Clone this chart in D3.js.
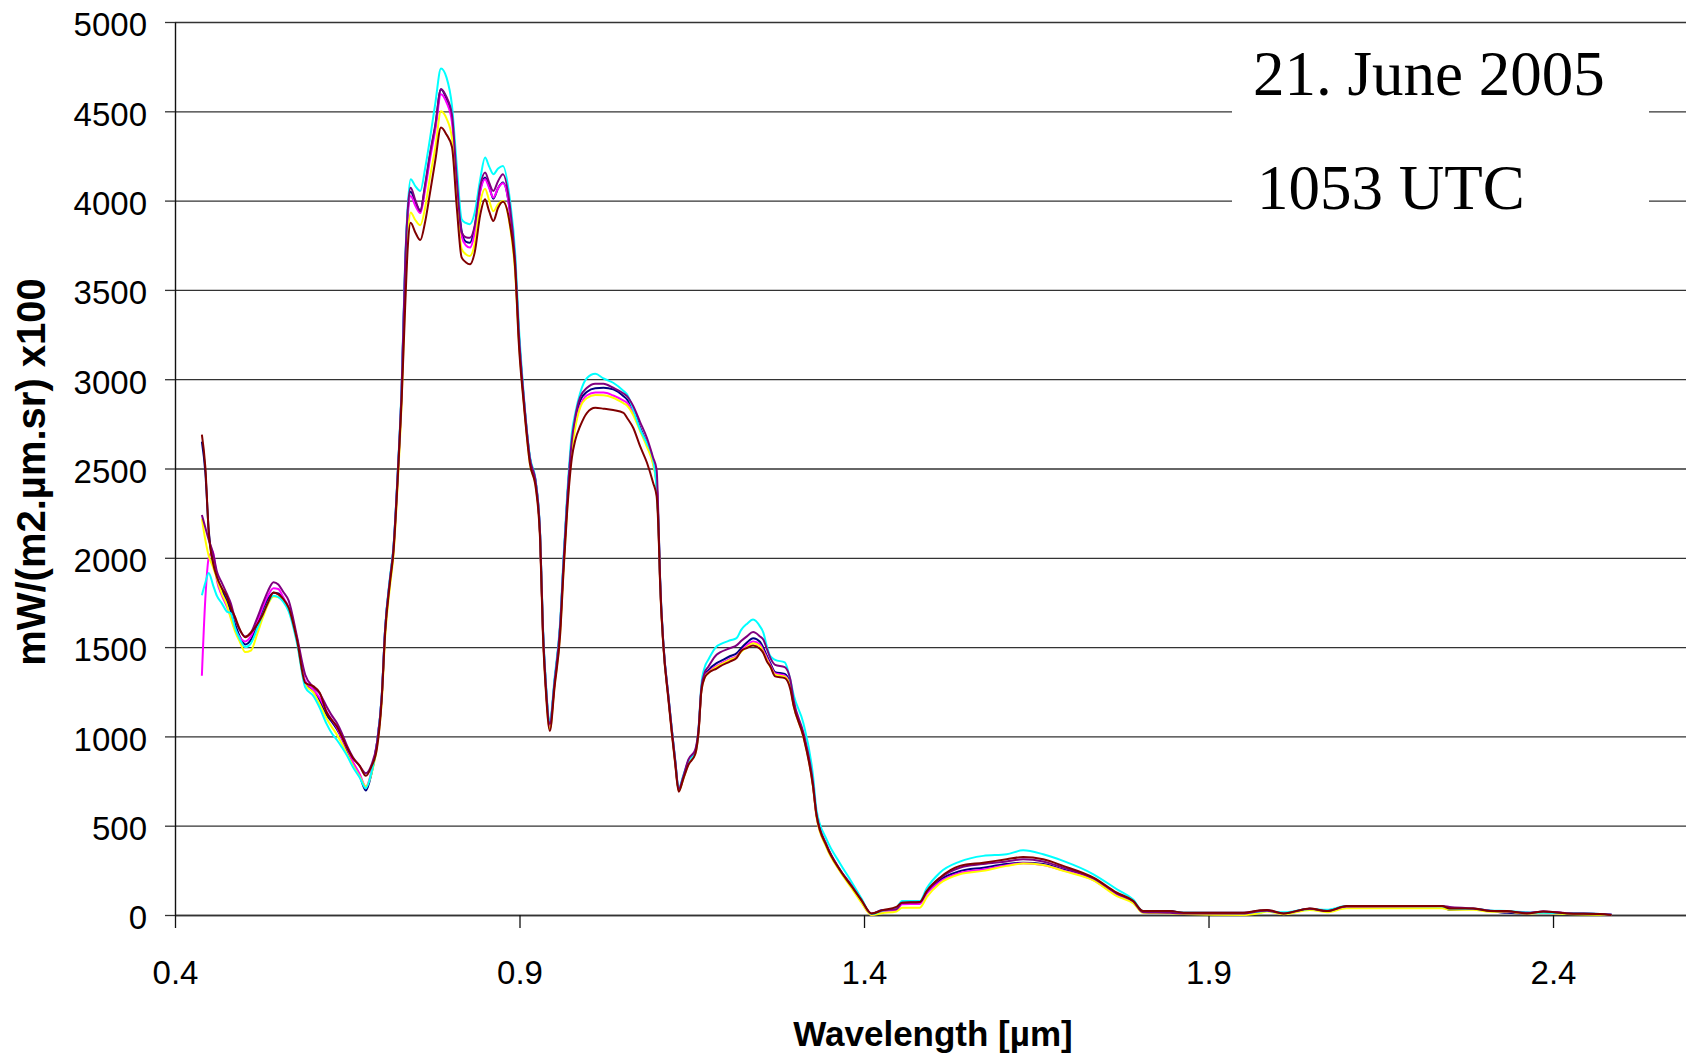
<!DOCTYPE html>
<html>
<head>
<meta charset="utf-8">
<script src="https://cdn.jsdelivr.net/npm/d3@7"></script>
<style>
  html, body { margin: 0; padding: 0; background: #fff; }
  svg { display: block; }
</style>
</head>
<body>
<svg id="chart" width="1686" height="1058"></svg>
<script>
// Wavelength grid [µm] shared by all six radiance spectra
const wavelength = [0.439,0.444,0.449,0.455,0.461,0.468,0.475,0.481,0.487,0.494,
  0.502,0.510,0.519,0.527,0.535,0.543,0.550,0.557,0.565,0.577,
  0.589,0.601,0.610,0.620,0.628,0.635,0.642,0.650,0.658,0.668,
  0.677,0.685,0.693,0.700,0.705,0.712,0.717,0.723,0.729,0.734,
  0.738,0.742,0.749,0.756,0.763,0.770,0.778,0.786,0.794,0.802,
  0.809,0.816,0.822,0.828,0.835,0.843,0.850,0.856,0.862,0.869,
  0.876,0.886,0.894,0.899,0.906,0.915,0.924,0.930,0.934,0.938,
  0.944,0.951,0.959,0.964,0.969,0.976,0.981,0.988,0.998,1.010,
  1.022,1.036,1.051,1.056,1.065,1.075,1.085,1.094,1.099,1.102,
  1.104,1.109,1.116,1.121,1.126,1.131,1.138,1.145,1.155,1.160,
  1.164,1.169,1.174,1.186,1.191,1.206,1.215,1.222,1.230,1.239,
  1.249,1.254,1.259,1.264,1.271,1.285,1.293,1.298,1.312,1.326,
  1.331,1.346,1.365,1.382,1.396,1.411,1.426,1.447,1.455,1.481,
  1.491,1.510,1.539,1.573,1.607,1.631,1.660,1.689,1.733,1.767,
  1.791,1.805,1.844,1.864,1.950,1.975,1.985,2.009,2.047,2.072,
  2.100,2.239,2.250,2.284,2.309,2.333,2.362,2.386,2.420,2.468,2.485];

// Radiance, mW/(m2.µm.sr) x100, one array per spectrum
const navy = [2650,2480,2150,1980,1890,1820,1760,1700,1630,1560,
  1515,1540,1620,1700,1770,1805,1800,1770,1720,1545,
  1300,1255,1200,1120,1080,1040,990,920,850,780,
  697,790,960,1220,1600,1880,2050,2450,2950,3620,
  3950,4050,3990,3945,4080,4250,4420,4624,4570,4470,
  4100,3830,3770,3764,3850,4060,4130,4080,4011,4070,
  4101,3940,3620,3250,2900,2560,2410,2120,1600,1300,
  1074,1310,1620,1980,2310,2650,2770,2880,2930,2950,
  2952,2943,2905,2887,2830,2730,2640,2540,2420,2150,
  1880,1504,1224,1037,860,700,775,860,915,1040,
  1265,1345,1370,1410,1420,1450,1465,1495,1525,1550,
  1530,1495,1450,1410,1360,1350,1290,1180,1010,730,
  560,385,252,160,80,5,26,30,65,70,
  125,195,245,265,285,293,285,255,200,115,
  72,22,22,13,13,24,26,9,35,22,
  48,48,28,35,22,12,9,18,9,6,2];

const magenta = [1340,1770,2000,2035,1870,1790,1730,1670,1600,1555,
  1532,1560,1640,1720,1790,1830,1825,1780,1720,1550,
  1310,1260,1215,1140,1090,1050,990,930,860,790,
  719,800,960,1220,1600,1870,2040,2440,2940,3600,
  3920,4026,3970,3930,4060,4230,4400,4596,4550,4440,
  4080,3800,3750,3737,3820,4050,4120,4070,4017,4070,
  4097,3940,3620,3240,2890,2550,2400,2110,1590,1290,
  1060,1300,1600,1970,2300,2640,2750,2850,2910,2925,
  2925,2909,2880,2868,2810,2720,2630,2530,2410,2140,
  1870,1500,1220,1030,855,700,770,850,905,1035,
  1260,1338,1360,1395,1405,1435,1450,1480,1510,1532,
  1515,1480,1440,1400,1352,1340,1280,1175,1005,725,
  555,380,250,158,75,0,20,28,60,62,
  120,185,235,255,278,290,280,250,196,110,
  70,18,15,10,10,22,25,8,33,22,
  46,47,38,35,22,20,10,18,9,6,1];

const yellow = [2220,2100,2010,1950,1880,1800,1740,1660,1590,1530,
  1472,1480,1570,1660,1740,1784,1780,1760,1710,1535,
  1290,1245,1180,1100,1050,1010,960,900,840,775,
  720,790,940,1190,1560,1840,2010,2400,2880,3480,
  3800,3933,3890,3862,3960,4130,4300,4500,4460,4350,
  4000,3730,3700,3690,3760,3990,4067,4000,3941,3980,
  3998,3860,3580,3220,2880,2530,2390,2100,1580,1280,
  1040,1290,1580,1940,2270,2600,2730,2840,2895,2912,
  2910,2896,2865,2853,2800,2710,2620,2520,2400,2130,
  1860,1495,1215,1025,850,695,765,845,900,1030,
  1255,1332,1355,1390,1400,1430,1445,1475,1500,1522,
  1505,1470,1430,1390,1345,1335,1275,1170,1000,720,
  550,375,245,150,70,0,10,20,40,41,
  100,176,228,247,275,288,280,247,194,106,
  65,12,10,5,0,12,20,4,28,16,
  38,38,30,30,18,18,8,12,5,2,0];

const cyan = [1790,1860,1915,1850,1785,1745,1700,1690,1610,1545,
  1500,1520,1600,1680,1750,1788,1780,1755,1700,1523,
  1275,1225,1160,1070,1015,980,940,890,830,770,
  710,795,960,1230,1610,1890,2060,2460,2970,3650,
  3980,4120,4080,4054,4180,4345,4550,4740,4690,4531,
  4194,3896,3875,3868,3933,4120,4241,4190,4148,4180,
  4194,4007,3690,3300,2920,2570,2420,2130,1620,1320,
  1090,1330,1640,2010,2340,2700,2810,2923,3007,3030,
  3004,2980,2934,2915,2831,2719,2640,2550,2382,2160,
  1890,1510,1230,1045,870,710,785,860,910,1050,
  1290,1390,1429,1504,1515,1538,1550,1598,1630,1654,
  1616,1580,1504,1450,1429,1414,1317,1230,1074,780,
  589,420,290,185,95,5,24,40,78,78,
  150,237,299,331,340,362,340,303,228,144,
  85,20,18,12,10,20,22,15,33,30,
  50,49,36,35,25,22,15,12,10,6,1];

const purple = [2240,2170,2100,2030,1920,1860,1800,1745,1660,1595,
  1560,1580,1660,1740,1815,1863,1850,1810,1760,1560,
  1345,1275,1240,1168,1115,1075,1020,945,885,835,
  794,840,960,1220,1600,1880,2050,2450,2950,3640,
  3960,4072,4000,3941,4090,4260,4430,4624,4580,4480,
  4120,3822,3795,3792,3860,4082,4157,4100,4054,4110,
  4148,3970,3640,3260,2905,2560,2410,2120,1600,1300,
  1070,1310,1620,1980,2310,2660,2790,2900,2952,2975,
  2975,2952,2920,2905,2850,2760,2670,2560,2494,2170,
  1890,1510,1230,1040,865,705,780,870,925,1050,
  1275,1360,1390,1457,1470,1495,1510,1535,1560,1584,
  1560,1541,1490,1440,1401,1388,1320,1200,1020,740,
  565,390,255,165,85,8,26,32,68,72,
  130,205,265,285,300,312,300,265,205,120,
  75,15,12,8,8,22,24,8,35,22,
  48,50,45,36,24,20,12,20,10,6,1];

const maroon = [2690,2510,2140,1975,1890,1830,1785,1720,1670,1600,
  1555,1580,1625,1680,1750,1806,1795,1770,1720,1541,
  1300,1280,1245,1135,1090,1055,1000,935,880,835,
  779,831,930,1205,1580,1861,2029,2421,2887,3400,
  3750,3876,3820,3779,3880,4040,4230,4409,4370,4300,
  3960,3682,3655,3643,3710,3920,4007,3940,3886,3960,
  3993,3870,3600,3200,2870,2530,2380,2090,1570,1270,
  1030,1280,1570,1930,2250,2560,2660,2737,2812,2840,
  2835,2827,2812,2784,2728,2625,2532,2419,2345,2120,
  1860,1495,1210,1020,845,690,765,840,900,1030,
  1255,1330,1354,1380,1392,1420,1439,1480,1495,1509,
  1490,1466,1420,1392,1336,1326,1265,1168,999,719,
  560,383,252,160,85,8,26,45,69,73,
  134,209,275,293,312,325,312,275,209,125,
  78,22,22,13,13,26,28,9,37,22,
  50,50,37,37,22,22,9,19,9,6,0];

// Axis ticks
const xTicks = [0.4, 0.9, 1.4, 1.9, 2.4];
const yTicks = [0, 500, 1000, 1500, 2000, 2500, 3000, 3500, 4000, 4500, 5000];

// Annotation lines
const dateLines = ["21. June 2005", "1053 UTC"];

const series = [
  { name: "navy",    color: "#000080", values: navy },
  { name: "magenta", color: "#FF00FF", values: magenta },
  { name: "yellow",  color: "#FFFF00", values: yellow },
  { name: "cyan",    color: "#00FFFF", values: cyan },
  { name: "purple",  color: "#800080", values: purple },
  { name: "maroon",  color: "#800000", values: maroon }
];

const W = 1686, H = 1058;
const plot = { left: 175, right: 1686, top: 22, bottom: 915 };
const sansFont = "'Liberation Sans', Arial, Helvetica, sans-serif";
const serifFont = "'Liberation Serif', 'Times New Roman', Times, serif";

const x = d3.scaleLinear().domain([0.4, 2.593]).range([plot.left, plot.right]);
const y = d3.scaleLinear().domain([0, 5000]).range([plot.bottom, plot.top]);

const svg = d3.select("#chart");
svg.append("rect").attr("width", W).attr("height", H).attr("fill", "#fff");

// Horizontal gridlines
const grid = svg.append("g")
  .attr("transform", `translate(${plot.left},0)`)
  .call(d3.axisLeft(y).tickValues(yTicks).tickSize(-(plot.right - plot.left)).tickFormat(""));
grid.select(".domain").remove();
grid.selectAll(".tick line").attr("stroke", "#333").attr("stroke-width", 1.3);

// Y axis with labels
const yAxis = svg.append("g")
  .attr("transform", `translate(${plot.left},0)`)
  .call(d3.axisLeft(y).tickValues(yTicks).tickSize(10).tickSizeOuter(0).tickPadding(18)
    .tickFormat(d3.format("d")));
yAxis.select(".domain").attr("stroke", "#111").attr("stroke-width", 1.4);
yAxis.selectAll(".tick line").attr("stroke", "#333").attr("stroke-width", 1.3);
yAxis.selectAll(".tick text")
  .attr("font-family", sansFont).attr("font-size", 33).attr("fill", "#000")
  .attr("dy", "0.42em");

// X axis with labels
const xAxis = svg.append("g")
  .attr("transform", `translate(0,${plot.bottom})`)
  .call(d3.axisBottom(x).tickValues(xTicks).tickSize(13).tickSizeOuter(0).tickPadding(33)
    .tickFormat(d3.format(".1f")));
xAxis.select(".domain").attr("stroke", "#333").attr("stroke-width", 1.4);
xAxis.selectAll(".tick line").attr("stroke", "#111").attr("stroke-width", 1.3);
xAxis.selectAll(".tick text")
  .attr("font-family", sansFont).attr("font-size", 33).attr("fill", "#000");

// Spectra
const line = d3.line()
  .x((d, i) => x(wavelength[i]))
  .y(d => y(d))
  .curve(d3.curveMonotoneX);

svg.append("g").selectAll("path")
  .data(series)
  .join("path")
  .attr("d", d => line(d.values))
  .attr("fill", "none")
  .attr("stroke", d => d.color)
  .attr("stroke-width", 2)
  .attr("stroke-linejoin", "round");

// Date / time annotation on a white panel
svg.append("rect")
  .attr("x", 1232).attr("y", 25).attr("width", 417).attr("height", 225)
  .attr("fill", "#fff");
svg.append("g").selectAll("text")
  .data(dateLines)
  .join("text")
  .attr("x", (d, i) => i === 0 ? 1253 : 1257)
  .attr("y", (d, i) => i === 0 ? 95 : 209)
  .attr("font-family", serifFont)
  .attr("font-size", 63)
  .attr("fill", "#000")
  .text(d => d);

// Axis titles
svg.append("text")
  .attr("x", 933).attr("y", 1046)
  .attr("text-anchor", "middle")
  .attr("font-family", sansFont).attr("font-weight", "bold").attr("font-size", 35)
  .attr("fill", "#000")
  .text("Wavelength [µm]");

svg.append("text")
  .attr("transform", "translate(45,472) rotate(-90)")
  .attr("text-anchor", "middle")
  .attr("font-family", sansFont).attr("font-weight", "bold").attr("font-size", 40)
  .attr("fill", "#000")
  .text("mW/(m2.µm.sr) x100");
</script>
</body>
</html>
